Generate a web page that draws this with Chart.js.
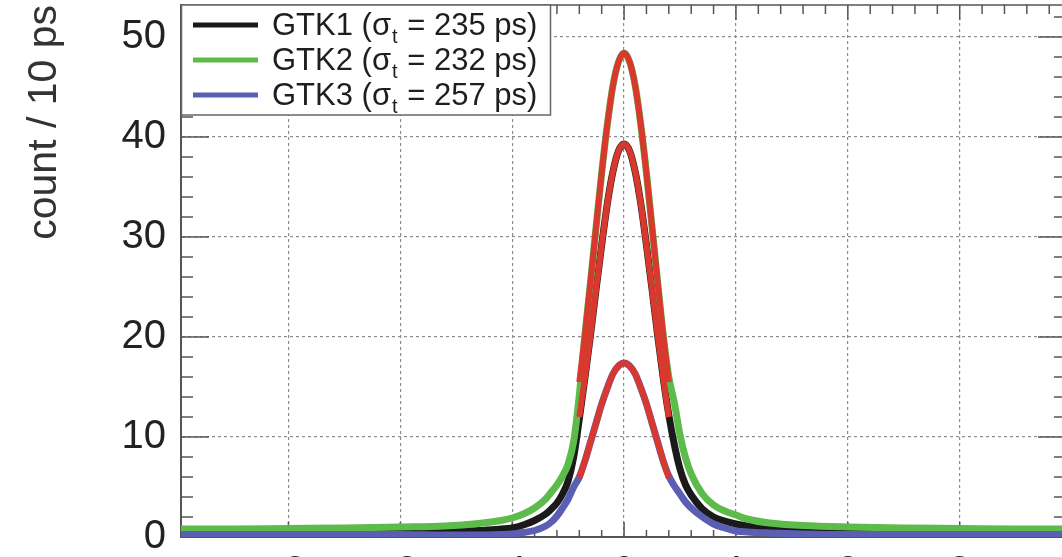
<!DOCTYPE html>
<html>
<head>
<meta charset="utf-8">
<script src="https://cdn.jsdelivr.net/npm/chart.js@4.4.1/dist/chart.umd.min.js"></script>
<style>
  html, body { margin: 0; padding: 0; background: #fff; width: 1062px; height: 557px; overflow: hidden; }
  #wrap { position: absolute; left: 0; top: 0; }
</style>
</head>
<body>
<div id="wrap"><canvas id="timing" width="1066" height="600"></canvas></div>
<script>
const timeNs = [-3.96, -3.5, -3.0, -2.5, -2.0, -1.6, -1.3, -1.1, -1.0, -0.9, -0.8, -0.7, -0.65, -0.6, -0.55,
  -0.5, -0.45, -0.4, -0.35, -0.3, -0.25, -0.2, -0.15, -0.1, -0.05, 0, 0.05, 0.1, 0.15, 0.2, 0.25, 0.3, 0.35,
  0.4, 0.45, 0.5, 0.55, 0.6, 0.7, 0.8, 0.9, 1.0, 1.1, 1.3, 1.6, 2.0, 2.5, 3.0, 3.5, 3.95];

const gtk1Counts = [0.5, 0.5, 0.5, 0.55, 0.55, 0.6, 0.65, 0.8, 0.9, 1.2, 1.65, 2.3, 2.8, 3.4, 4.3,
  5.6, 8.0, 11.8, 15.9, 20.2, 24.8, 29.2, 33.3, 36.5, 38.6, 39.3, 38.6, 36.5, 33.3, 29.2, 24.8, 20.2, 15.9,
  12.2, 9.2, 6.8, 5.2, 4.2, 2.8, 2.0, 1.6, 1.3, 1.1, 0.85, 0.7, 0.6, 0.55, 0.5, 0.5, 0.5];

const gtk2Counts = [0.8, 0.8, 0.85, 0.9, 1.0, 1.1, 1.35, 1.65, 1.9, 2.3, 2.9, 3.8, 4.5, 5.2, 6.1,
  7.3, 9.6, 14.2, 20.2, 25.5, 31.0, 36.4, 41.2, 45.1, 47.5, 48.4, 47.5, 45.1, 41.2, 36.4, 31.0, 25.5, 20.2,
  16.0, 13.4, 10.2, 7.9, 6.3, 4.3, 3.2, 2.6, 2.2, 1.8, 1.4, 1.15, 1.0, 0.9, 0.85, 0.8, 0.8];

const gtk3Counts = [0.25, 0.25, 0.25, 0.25, 0.25, 0.2, 0.2, 0.25, 0.3, 0.45, 0.65, 1.1, 1.5, 2.1, 2.9,
  3.8, 5.0, 6.0, 7.6, 9.5, 11.4, 13.3, 14.9, 16.3, 17.1, 17.4, 17.1, 16.3, 14.9, 13.3, 11.4, 9.5, 7.6,
  6.1, 5.1, 4.3, 3.5, 2.9, 2.0, 1.3, 0.9, 0.6, 0.5, 0.4, 0.3, 0.25, 0.25, 0.25, 0.25, 0.25];

// gaussian fits, only drawn over the core
const fitNs = [-0.4, -0.35, -0.3, -0.25, -0.2, -0.15, -0.1, -0.05, 0, 0.05, 0.1, 0.15, 0.2, 0.25, 0.3, 0.35, 0.4];
const gtk1Fit = [12.0, 15.9, 20.2, 24.8, 29.2, 33.3, 36.5, 38.6, 39.3, 38.6, 36.5, 33.3, 29.2, 24.8, 20.2, 15.9, 12.0];
const gtk2Fit = [15.5, 20.2, 25.5, 31.0, 36.4, 41.2, 45.1, 47.5, 48.4, 47.5, 45.1, 41.2, 36.4, 31.0, 25.5, 20.2, 15.5];
const gtk3Fit = [5.9, 7.6, 9.5, 11.4, 13.3, 14.9, 16.3, 17.1, 17.4, 17.1, 16.3, 14.9, 13.3, 11.4, 9.5, 7.6, 5.9];

const detectors = ['GTK1', 'GTK2', 'GTK3'];
const sigmaPs = [235, 232, 257];
const yTicks = [0, 10, 20, 30, 40, 50];

const lineColours = ['#1a1a1a', '#5dbb4c', '#5b5fb3'];
const fitColour = '#d8382e';
const FONT = '"Liberation Sans", Arial, Helvetica, sans-serif';

Chart.defaults.font.family = FONT;

const counts = [gtk1Counts, gtk2Counts, gtk3Counts];
const fits = [gtk1Fit, gtk2Fit, gtk3Fit];

const datasets = [];
detectors.forEach((name, i) => {
  datasets.push({
    label: name + ' (σt = ' + sigmaPs[i] + ' ps)',
    data: timeNs.map((t, k) => ({ x: t, y: counts[i][k] })),
    borderColor: lineColours[i],
    borderWidth: 7,
    cubicInterpolationMode: 'monotone',
    pointRadius: 0,
    order: 3 - i
  });
});
detectors.forEach((name, i) => {
  datasets.push({
    label: name + ' fit',
    data: fitNs.map((t, k) => ({ x: t, y: fits[i][k] })),
    borderColor: fitColour,
    borderWidth: 6,
    cubicInterpolationMode: 'monotone',
    pointRadius: 0,
    order: 0
  });
});

// ROOT style frame: ticks on all four sides pointing inwards
const frameTicks = {
  id: 'frameTicks',
  beforeDatasetsDraw(chart) {
    const { ctx: c, chartArea: a, scales: { x, y } } = chart;
    c.save();
    c.strokeStyle = '#555';
    c.lineWidth = 1.5;
    c.beginPath();
    c.moveTo(a.left, a.top); c.lineTo(a.right, a.top);
    c.moveTo(a.right, a.top); c.lineTo(a.right, a.bottom);
    for (let k = -20; k <= 20; k++) {
      const v = k / 5;
      if (v < x.min || v > x.max) continue;
      const px = x.getPixelForValue(v);
      const major = k % 5 === 0;
      c.moveTo(px, a.bottom); c.lineTo(px, a.bottom - (major ? 15 : 7));
      c.moveTo(px, a.top); c.lineTo(px, a.top + (major ? 15 : 9));
    }
    for (let v = 0; v <= y.max; v += 2) {
      const py = y.getPixelForValue(v);
      const major = v % 10 === 0;
      c.moveTo(a.left, py); c.lineTo(a.left + (major ? 28 : 12), py);
      c.moveTo(a.right, py); c.lineTo(a.right - (major ? 28 : 12), py);
    }
    c.stroke();
    c.restore();
  }
};

// legend box in the top left corner, with the subscript t
const boxLegend = {
  id: 'boxLegend',
  afterDraw(chart) {
    const c = chart.ctx;
    const a = chart.chartArea;
    c.save();
    c.fillStyle = '#fff';
    c.fillRect(a.left, a.top, 369, 110);
    c.strokeStyle = '#666';
    c.lineWidth = 1.5;
    c.strokeRect(a.left + 0.5, a.top, 369, 110);
    detectors.forEach((name, i) => {
      const base = a.top + 30 + i * 35;
      c.strokeStyle = lineColours[i];
      c.lineWidth = 5;
      c.beginPath();
      c.moveTo(a.left + 12, base - 10);
      c.lineTo(a.left + 77, base - 10);
      c.stroke();

      c.fillStyle = '#1e1e1e';
      c.textBaseline = 'alphabetic';
      let x = a.left + 91;
      c.font = '31px ' + FONT;
      const head = name + ' (σ';
      c.fillText(head, x, base);
      x += c.measureText(head).width;
      c.font = '20px ' + FONT;
      c.fillText('t', x + 1, base + 8);
      x += c.measureText('t').width + 2;
      c.font = '31px ' + FONT;
      c.fillText(' = ' + sigmaPs[i] + ' ps)', x, base);
    });
    c.restore();
  }
};

const ctx = document.getElementById('timing');

new Chart(ctx, {
  type: 'line',
  data: { datasets: datasets },
  options: {
    responsive: false,
    animation: false,
    devicePixelRatio: 1,
    layout: { padding: { top: 5, left: 0, right: 0, bottom: 0 } },
    plugins: {
      legend: { display: false },
      tooltip: { enabled: false }
    },
    scales: {
      x: {
        type: 'linear',
        min: -3.96,
        max: 3.95,
        afterFit: (s) => { s.height = 63; s.paddingLeft = 0; s.paddingRight = 0; },
        ticks: { stepSize: 1, includeBounds: false, padding: 12, color: '#222', font: { size: 40 } },
        grid: { color: '#8c8c8c', lineWidth: 1.2, drawTicks: false },
        border: { color: '#555', width: 2, dash: [3, 3] }
      },
      y: {
        min: 0,
        max: 53.2,
        afterFit: (s) => { s.width = 181; s.paddingTop = 0; s.paddingBottom = 0; },
        afterBuildTicks: (s) => { s.ticks = yTicks.map(v => ({ value: v })); },
        ticks: { includeBounds: false, padding: 15, color: '#222', font: { size: 40 } },
        grid: { color: '#8c8c8c', lineWidth: 1.2, drawTicks: false },
        border: { color: '#555', width: 2, dash: [3, 3] },
        title: {
          display: true,
          text: 'count / 10 ps',
          align: 'end',
          color: '#333',
          font: { size: 41 },
          padding: { top: 20, bottom: 0 }
        }
      }
    }
  },
  plugins: [frameTicks, boxLegend]
});
</script>
</body>
</html>
